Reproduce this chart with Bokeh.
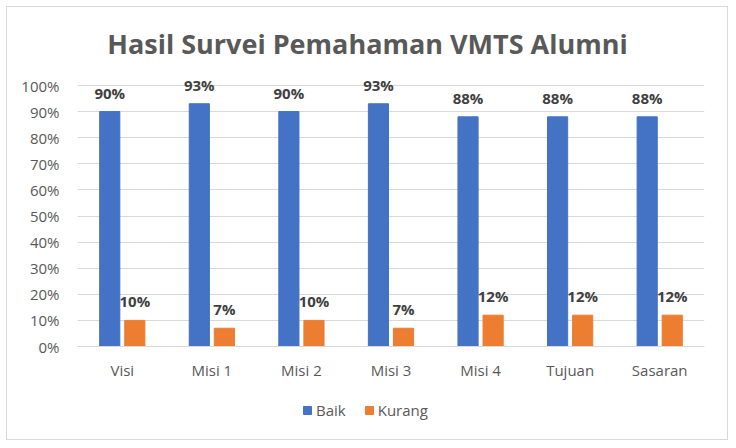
from bokeh.plotting import figure
from bokeh.layouts import column, row
from bokeh.core.properties import value
from bokeh.models import (ColumnDataSource, FactorRange, Range1d, FixedTicker,
                          NumeralTickFormatter, LabelSet, Label, Legend, LegendItem,
                          Spacer)
from bokeh.transform import dodge
from bokeh.embed import file_html
from bokeh.resources import INLINE

categories = ["Visi", "Misi 1", "Misi 2", "Misi 3", "Misi 4", "Tujuan", "Sasaran"]
baik = [0.90, 0.93, 0.90, 0.93, 0.88, 0.88, 0.88]
kurang = [0.10, 0.07, 0.10, 0.07, 0.12, 0.12, 0.12]
y_ticks = [0.0, 0.1, 0.2, 0.3, 0.4, 0.5, 0.6, 0.7, 0.8, 0.9, 1.0]
series_names = ["Baik", "Kurang"]
title_text = "Hasil Survei Pemahaman VMTS Alumni"

FONT = "Open Sans"
TEXT = "#595959"
BLUE = "#4472C4"
ORANGE = "#ED7D31"
GRID = "#D9D9D9"

W = 720
ML, MR, MB = 70, 23, 38
frame_h = 339            # frame runs from the canvas top down to the 0% line
top_gap = 78             # 100% line sits this far below the canvas top
y_end = frame_h / (frame_h - top_gap)
LG_H = 432 - (frame_h + MB)

src = ColumnDataSource(dict(
    cat=categories,
    baik=baik,
    kurang=kurang,
    baik_lbl=[f"{round(v*100)}%" for v in baik],
    kurang_lbl=[f"{round(v*100)}%" for v in kurang],
))

p = figure(x_range=FactorRange(*categories), y_range=Range1d(0, y_end),
           width=W, height=frame_h + MB, output_backend="svg", toolbar_location=None,
           min_border_left=ML, min_border_right=MR, min_border_top=0,
           min_border_bottom=MB)
p.outline_line_color = None
p.background_fill_color = "white"
p.border_fill_color = "white"

r1 = p.vbar(x=dodge("cat", -0.14, range=p.x_range), top="baik", width=0.225,
            source=src, color=BLUE)
r2 = p.vbar(x=dodge("cat", 0.14, range=p.x_range), top="kurang", width=0.225,
            source=src, color=ORANGE)

p.xgrid.grid_line_color = None
p.ygrid.grid_line_color = GRID
p.ygrid.grid_line_width = 1
p.ygrid.ticker = FixedTicker(ticks=y_ticks)

p.yaxis.ticker = FixedTicker(ticks=y_ticks)
p.yaxis.formatter = NumeralTickFormatter(format="0%")
p.yaxis.axis_line_color = None
p.yaxis.major_tick_line_color = None
p.yaxis.minor_tick_line_color = None
p.yaxis.major_label_standoff = 12
p.yaxis.major_label_text_font = FONT
p.yaxis.major_label_text_font_size = "15px"
p.yaxis.major_label_text_color = TEXT

p.xaxis.axis_line_color = GRID
p.xaxis.major_tick_line_color = None
p.xaxis.minor_tick_line_color = None
p.xaxis.major_label_standoff = 7
p.xaxis.major_label_text_font = FONT
p.xaxis.major_label_text_font_size = "15px"
p.xaxis.major_label_text_color = TEXT

for col, lbl, off in (("baik", "baik_lbl", -0.14), ("kurang", "kurang_lbl", 0.14)):
    ls = LabelSet(x=dodge("cat", off, range=p.x_range), y=col, text=lbl, source=src,
                  text_align="center", text_baseline="middle", y_offset=19,
                  text_font=value(FONT), text_font_style="bold",
                  text_font_size="15px", text_color="#404040")
    p.add_layout(ls)

title = Label(x=290, y=frame_h - 36, x_units="screen", y_units="screen",
              text=title_text, text_align="center", text_baseline="middle",
              text_font=FONT, text_font_style="bold", text_font_size="27px",
              text_color=TEXT)
p.add_layout(title)

# legend strip below the chart (hidden copies of the series supply the swatches)
lg = figure(width=W, height=LG_H, x_range=FactorRange(*categories),
            y_range=Range1d(0, 1), output_backend="svg", toolbar_location=None,
            x_axis_location=None, y_axis_location=None, min_border=0,
            min_border_left=0, min_border_right=0, min_border_top=0,
            min_border_bottom=0)
lg.grid.grid_line_color = None
lg.outline_line_color = None
lg.border_fill_color = "white"
k1 = lg.vbar(x="cat", top="baik", width=0.2, source=src, color=BLUE, visible=False)
k2 = lg.vbar(x="cat", top="kurang", width=0.2, source=src, color=ORANGE, visible=False)
legend = Legend(items=[LegendItem(label=series_names[0], renderers=[k1]),
                       LegendItem(label=series_names[1], renderers=[k2])],
                orientation="horizontal", location=(225, 19),
                glyph_width=10, glyph_height=10, label_standoff=4, spacing=18,
                padding=0, margin=0, label_height=18,
                label_text_font=FONT, label_text_font_size="15px",
                label_text_color=TEXT, border_line_color=None,
                background_fill_alpha=0, inactive_fill_alpha=0)
lg.add_layout(legend, "center")

box = column(p, lg, spacing=0)
box.styles = {"border": "1px solid #D9D9D9"}
page = row(Spacer(width=6), column(Spacer(height=6), box))

open("out.html", "w").write(file_html(page, INLINE))
